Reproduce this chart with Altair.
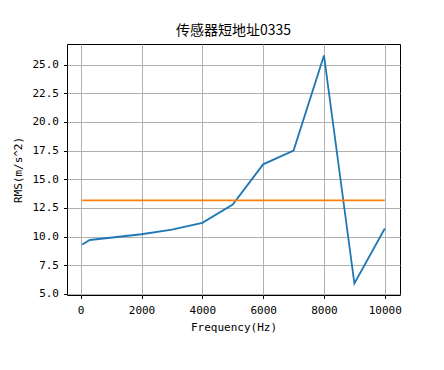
import altair as alt
import pandas as pd

freq = [50, 300, 2000, 3000, 4000, 5000, 6000, 7000, 8000, 9000, 10000]
rms = [9.3, 9.7, 10.2, 10.6, 11.2, 12.8, 16.3, 17.5, 25.8, 5.9, 10.7]
ref_x = [50, 10000]
ref_y = [13.15, 13.15]
x_ticks = [0, 2000, 4000, 6000, 8000, 10000]
y_ticks = [5.0, 7.5, 10.0, 12.5, 15.0, 17.5, 20.0, 22.5, 25.0]

df = pd.concat([
    pd.DataFrame({"f": freq, "r": rms, "s": "rms"}),
    pd.DataFrame({"f": ref_x, "r": ref_y, "s": "ref"}),
], ignore_index=True)

mono = "DejaVu Sans Mono"
xs = alt.Scale(domain=[-450, 10500], nice=False, zero=False)
ys = alt.Scale(domain=[4.9, 26.8], nice=False, zero=False)

xax = alt.Axis(title="Frequency(Hz)", values=x_ticks, format="d",
               grid=True, gridColor="#b0b0b0", gridWidth=1, domain=False, labelOverlap=False,
               tickColor="black", tickSize=3.5, labelFont=mono, labelFontSize=11,
               labelColor="black", titleFont=mono, titleFontSize=11, titleFontWeight="normal",
               titleColor="black", labelPadding=6, titlePadding=6)
yax = alt.Axis(title="RMS(m/s^2)", values=y_ticks, format=".1f",
               grid=True, gridColor="#b0b0b0", gridWidth=1, domain=False, labelOverlap=False,
               tickColor="black", tickSize=3.5, labelFont=mono, labelFontSize=11,
               labelColor="black", titleFont=mono, titleFontSize=11, titleFontWeight="normal",
               titleColor="black", labelPadding=5, titlePadding=9)

chart = alt.Chart(df).mark_line(strokeWidth=1.8).encode(
    x=alt.X("f:Q", scale=xs, axis=xax),
    y=alt.Y("r:Q", scale=ys, axis=yax),
    color=alt.Color("s:N", scale=alt.Scale(domain=["rms", "ref"], range=["#1f77b4", "#ff7f0e"]), legend=None),
    order=alt.Order("f:Q"),
).properties(
    width=333, height=251,
    background="white",
    title=alt.TitleParams("传感器短地址0335", font="Noto Sans CJK SC", fontSize=14,
                          fontWeight="normal", color="black", offset=6),
    autosize=alt.AutoSizeParams(type="none"),
    padding={"left": 59, "top": 36, "right": 36, "bottom": 67},
).configure_view(stroke="#000000", strokeWidth=1, strokeOpacity=1)

chart.save("out.html", embed_options={"renderer": "svg", "actions": False})
